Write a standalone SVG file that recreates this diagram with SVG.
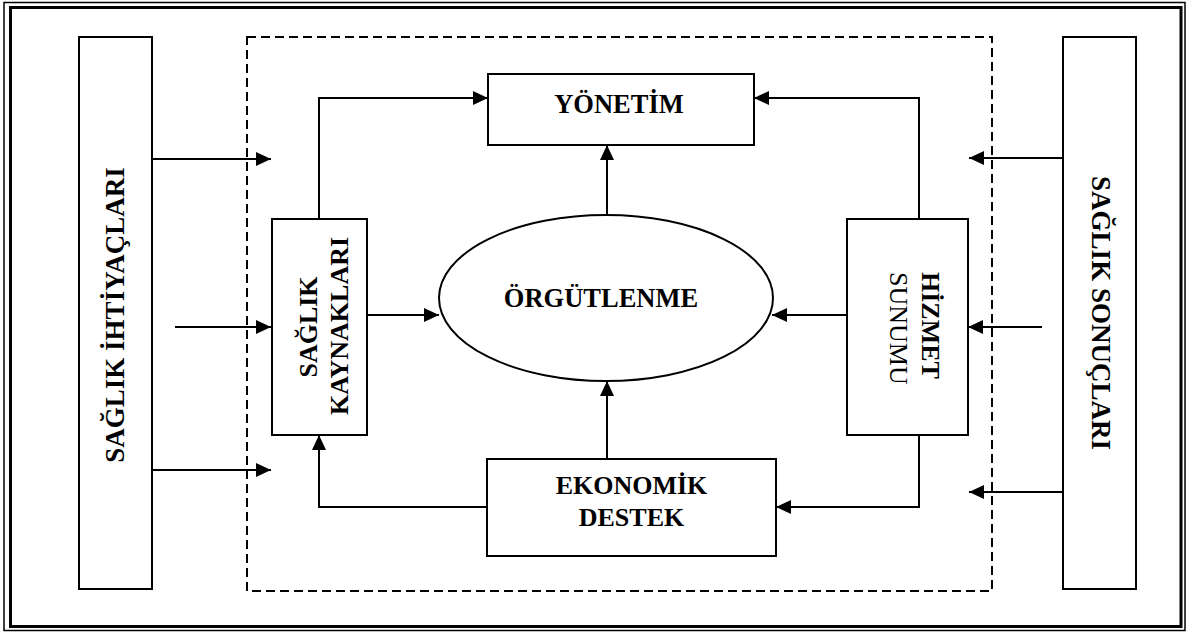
<svg xmlns="http://www.w3.org/2000/svg" width="1186" height="633" viewBox="0 0 1186 633">
<style>
.box{fill:#fff;stroke:#000;stroke-width:2}
.ln{fill:none;stroke:#000;stroke-width:2}
.t{font-family:"Liberation Serif","Times New Roman",serif;font-weight:bold;font-size:26.5px;fill:#000}
.tr{font-family:"Liberation Serif","Times New Roman",serif;font-weight:normal;font-size:26px;fill:#000}
</style>
<defs>
<marker id="ah" markerUnits="userSpaceOnUse" markerWidth="16" markerHeight="14" refX="15" refY="7" orient="auto">
<path d="M0,0 L15,7 L0,14 z" fill="#000"/>
</marker>
</defs>
<rect width="1186" height="633" fill="#fff"/>
<g id="frame">
<rect x="4" y="2.5" width="1181" height="628" fill="none" stroke="#000" stroke-width="1.5"/>
<rect x="10.5" y="7.5" width="1170.5" height="619" fill="none" stroke="#000" stroke-width="3"/>
<rect x="247" y="37" width="745" height="554" fill="none" stroke="#000" stroke-width="2" stroke-dasharray="9 5"/>
</g>
<g id="connectors">
<line class="ln" x1="152" y1="159" x2="271" y2="159" marker-end="url(#ah)"/>
<line class="ln" x1="175" y1="327" x2="271" y2="327" marker-end="url(#ah)"/>
<line class="ln" x1="152" y1="470" x2="271" y2="470" marker-end="url(#ah)"/>
<line class="ln" x1="1063" y1="158" x2="969" y2="158" marker-end="url(#ah)"/>
<line class="ln" x1="1042" y1="327" x2="968" y2="327" marker-end="url(#ah)"/>
<line class="ln" x1="1063" y1="492" x2="969" y2="492" marker-end="url(#ah)"/>
<polyline class="ln" points="319,219 319,98 488,98" marker-end="url(#ah)"/>
<polyline class="ln" points="919,219 919,98 754,98" marker-end="url(#ah)"/>
<line class="ln" x1="607" y1="215" x2="607" y2="145" marker-end="url(#ah)"/>
<line class="ln" x1="607" y1="459" x2="607" y2="381" marker-end="url(#ah)"/>
<line class="ln" x1="367" y1="315" x2="439" y2="315" marker-end="url(#ah)"/>
<line class="ln" x1="847" y1="315" x2="772" y2="315" marker-end="url(#ah)"/>
<polyline class="ln" points="487,507 319,507 319,435" marker-end="url(#ah)"/>
<polyline class="ln" points="919,435 919,507 776,507" marker-end="url(#ah)"/>
</g>
<g id="saglik-ihtiyaclari">
<rect class="box" x="79" y="37" width="73" height="552"/>
<text class="t" style="font-size:27px" transform="translate(124,315) rotate(-90)" text-anchor="middle">SAĞLIK İHTİYAÇLARI</text>
</g>
<g id="saglik-sonuclari">
<rect class="box" x="1063" y="37" width="73" height="552"/>
<text class="t" style="font-size:27px" transform="translate(1092,313) rotate(90)" text-anchor="middle">SAĞLIK SONUÇLARI</text>
</g>
<g id="yonetim">
<rect class="box" x="488" y="74" width="266" height="71"/>
<text class="t" x="619" y="113" text-anchor="middle">YÖNETİM</text>
</g>
<g id="orgutlenme">
<ellipse class="box" cx="606" cy="298" rx="167" ry="83"/>
<text class="t" x="601" y="307" text-anchor="middle">ÖRGÜTLENME</text>
</g>
<g id="saglik-kaynaklari">
<rect class="box" x="272" y="219" width="95" height="216"/>
<text class="t" style="font-size:26px" transform="translate(317,327) rotate(-90)" text-anchor="middle">SAĞLIK</text>
<text class="t" style="font-size:26px" transform="translate(348,326) rotate(-90)" text-anchor="middle">KAYNAKLARI</text>
</g>
<g id="hizmet-sunumu">
<rect class="box" x="847" y="219" width="121" height="216"/>
<text class="t" style="font-size:26px" transform="translate(922,272) rotate(90)">HİZMET</text>
<text class="tr" transform="translate(890,272) rotate(90)">SUNUMU</text>
</g>
<g id="ekonomik-destek">
<rect class="box" x="487" y="459" width="289" height="97"/>
<text class="t" style="font-size:26px" x="631.5" y="494" text-anchor="middle">EKONOMİK</text>
<text class="t" style="font-size:26px" x="631.5" y="526" text-anchor="middle">DESTEK</text>
</g>
</svg>
